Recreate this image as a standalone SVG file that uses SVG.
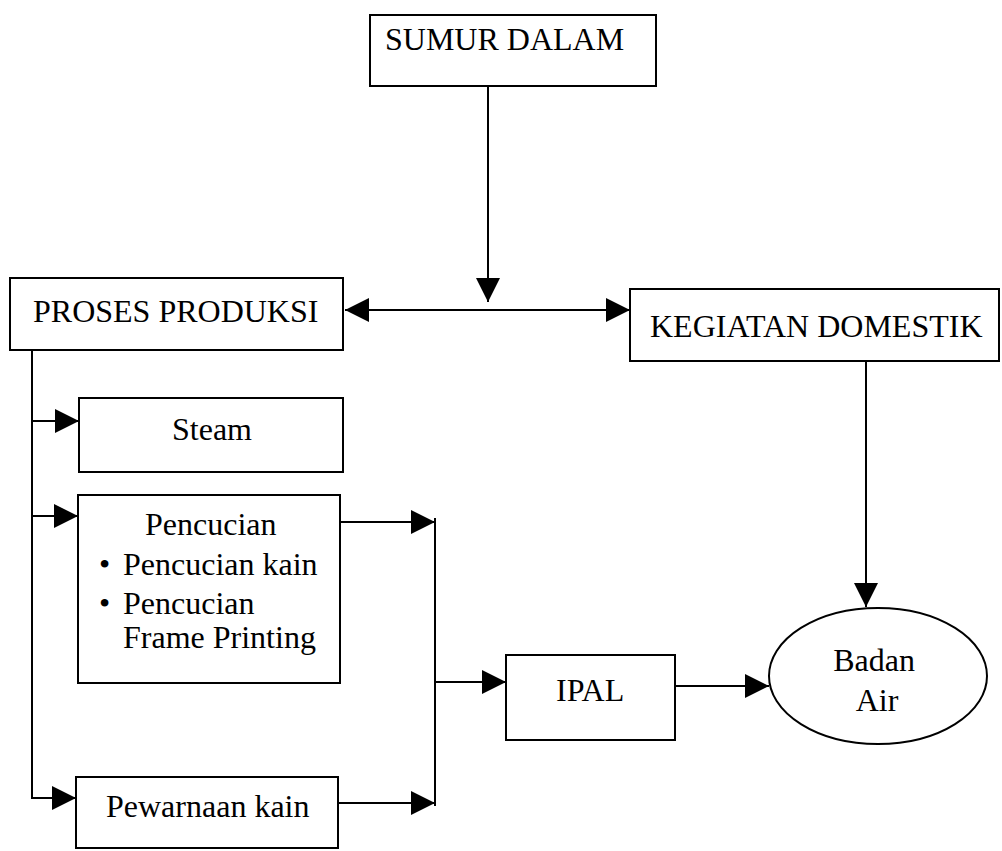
<svg xmlns="http://www.w3.org/2000/svg" width="1002" height="851" viewBox="0 0 1002 851">
<style>
.box{fill:#fff;stroke:#000;stroke-width:2}
.t{font-family:"Liberation Serif","Times New Roman",serif;font-size:32px;fill:#000}
.c{fill:none;stroke:#000;stroke-width:2}
</style>
<defs>
<marker id="ah" markerUnits="userSpaceOnUse" markerWidth="24" markerHeight="24" viewBox="0 0 22 22" refX="22" refY="11" orient="auto">
<path d="M0,0 L22,11 L0,22 Z" fill="#000"/>
</marker>
</defs>
<rect width="1002" height="851" fill="#fff"/>
<g id="connectors">
<line class="c" x1="488" y1="86" x2="488" y2="302" marker-end="url(#ah)"/>
<line class="c" x1="488" y1="310" x2="345" y2="310" marker-end="url(#ah)"/>
<line class="c" x1="488" y1="310" x2="630" y2="310" marker-end="url(#ah)"/>
<line class="c" x1="866" y1="361" x2="866" y2="607" marker-end="url(#ah)"/>
<polyline class="c" points="32,350 32,798 76,798" marker-end="url(#ah)"/>
<line class="c" x1="32" y1="421" x2="79" y2="421" marker-end="url(#ah)"/>
<line class="c" x1="32" y1="516" x2="78" y2="516" marker-end="url(#ah)"/>
<line class="c" x1="340" y1="522" x2="435" y2="522" marker-end="url(#ah)"/>
<line class="c" x1="338" y1="803" x2="435" y2="803" marker-end="url(#ah)"/>
<line class="c" x1="435" y1="518" x2="435" y2="806"/>
<line class="c" x1="435" y1="682" x2="506" y2="682" marker-end="url(#ah)"/>
<line class="c" x1="675" y1="686" x2="769" y2="686" marker-end="url(#ah)"/>
</g>
<g id="sumur-dalam">
<rect class="box" x="370" y="15" width="286" height="71"/>
<text class="t" x="385" y="50">SUMUR DALAM</text>
</g>
<g id="proses-produksi">
<rect class="box" x="10" y="278" width="333" height="72"/>
<text class="t" x="33" y="322">PROSES PRODUKSI</text>
</g>
<g id="kegiatan-domestik">
<rect class="box" x="630" y="289" width="369" height="72"/>
<text class="t" x="650" y="337">KEGIATAN DOMESTIK</text>
</g>
<g id="steam">
<rect class="box" x="79" y="398" width="264" height="74"/>
<text class="t" x="172" y="440">Steam</text>
</g>
<g id="pencucian">
<rect class="box" x="78" y="495" width="262" height="188"/>
<text class="t" x="145" y="535">Pencucian</text>
<text class="t" x="99" y="575">•</text>
<text class="t" x="123" y="575">Pencucian kain</text>
<text class="t" x="99" y="614">•</text>
<text class="t" x="123" y="614">Pencucian</text>
<text class="t" x="123" y="648">Frame Printing</text>
</g>
<g id="pewarnaan-kain">
<rect class="box" x="76" y="777" width="262" height="71"/>
<text class="t" x="106" y="817">Pewarnaan kain</text>
</g>
<g id="ipal">
<rect class="box" x="506" y="655" width="169" height="85"/>
<text class="t" x="556" y="701">IPAL</text>
</g>
<g id="badan-air">
<ellipse class="box" cx="878" cy="676" rx="109" ry="68"/>
<text class="t" x="874" y="671" text-anchor="middle">Badan</text>
<text class="t" x="877" y="711" text-anchor="middle">Air</text>
</g>
</svg>
